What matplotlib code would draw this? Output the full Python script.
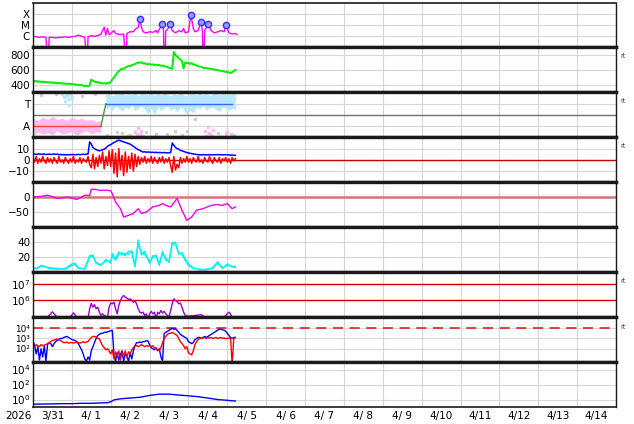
import numpy as np
import matplotlib.pyplot as plt

# time axis: hours since 2026-03-31 00:00, 15 days shown
n_days = 15
day_labels = ["3/31", "4/ 1", "4/ 2", "4/ 3", "4/ 4", "4/ 5", "4/ 6", "4/ 7",
              "4/ 8", "4/ 9", "4/10", "4/11", "4/12", "4/13", "4/14"]

hours = np.arange(126)

# --- X-ray flux (log10 W/m2) ---
xray_t = [0, 2, 4, 6, 8, 9, 9.6, 10, 12, 14, 16, 18, 20, 22, 24, 26, 28, 30, 32, 33, 33.6,
          34, 36, 38, 40, 42, 44, 45, 46, 47, 48, 50, 51, 52, 54, 56, 57, 57.6, 58, 60, 62, 63,
          65, 66, 67, 68, 70, 72, 74, 76, 77, 78, 79.8, 80.6, 81, 81.6, 82, 83, 84.8, 86, 88,
          90, 92, 93, 94, 96, 97.5, 99, 100, 102, 103.7, 104.6, 105, 105.6, 106, 108.2, 110,
          112, 114, 116, 118, 119.3, 121, 123, 125, 126]
xray_log = [-6.0, -6.05, -6.1, -6.05, -6.1, -8, -8, -6.1, -6.1, -6.15, -6.1, -6.1, -6.05, -6.1,
            -6.05, -6.0, -5.9, -6.0, -6.1, -8, -8, -6.05, -5.95, -6.0, -5.95, -5.8, -5.2, -5.9,
            -5.3, -5.85, -5.75, -5.5, -5.75, -5.8, -5.85, -5.8, -8, -8, -5.75, -5.6, -5.6, -5.4,
            -5.2, -4.45, -5.2, -5.6, -5.7, -5.6, -5.65, -5.5, -5.7, -5.4, -4.89, -5.4, -8, -8,
            -5.5, -5.4, -4.89, -5.5, -5.7, -5.5, -5.6, -5.3, -5.7, -5.6, -4.09, -5.3, -5.6, -5.5,
            -4.69, -5.5, -8, -8, -5.5, -4.89, -5.5, -5.7, -5.6, -5.5, -5.6, -4.98, -5.7, -5.8,
            -5.75, -5.85]
flare_t = [66, 79.8, 84.8, 97.5, 103.7, 108.2, 119.3]
flare_log = [-4.45, -4.89, -4.89, -4.09, -4.69, -4.89, -4.98]

# --- solar wind speed (km/s) ---
wind = [460, 445, 455, 440, 450, 438, 445, 435, 442, 430, 438, 428,
        435, 425, 432, 420, 428, 418, 425, 415, 420, 412, 418, 410,
        415, 405, 410, 400, 405, 395, 400, 390, 385, 392, 380, 395,
        470, 455, 445, 435, 440, 425, 430, 418, 425, 415, 428, 420,
        440, 470, 500, 530, 560, 585, 600, 620, 610, 635, 640, 655,
        650, 665, 670, 680, 690, 700, 695, 705, 685, 690, 680, 675,
        680, 670, 675, 665, 672, 660, 668, 655, 660, 650, 645, 640,
        630, 625, 615, 840, 800, 780, 760, 740, 720, 620, 700, 690,
        695, 680, 690, 675, 670, 660, 650, 645, 640, 630, 625, 628,
        620, 615, 618, 610, 605, 600, 598, 592, 590, 585, 580, 575,
        572, 565, 560, 570, 585, 600]

# --- IMF sector (A=1, T=3) ---
pink_t = [0, 3, 6, 9, 12, 15, 18, 21, 24, 27, 30, 33, 36, 39, 42]
pink_lo = [0.2, 0.5, 0.3, 0.4, 0.2, 0.6, 0.3, 0.4, 0.5, 0.2, 0.4, 0.6, 0.3, 0.5, 0.4]
pink_hi = [1.7, 1.5, 1.8, 1.6, 1.9, 1.6, 1.7, 1.5, 1.8, 1.6, 1.7, 1.5, 1.6, 1.4, 1.5]
blue_t = [45, 47, 49, 51, 53, 55, 57, 59, 61, 63, 65, 67, 69, 71, 73, 75, 77, 79, 81, 83,
          85, 87, 89, 91, 93, 95, 97, 99, 101, 103, 105, 107, 109, 111, 113, 115, 117, 119,
          121, 123, 125]
blue_lo = [2.5, 2.7, 2.4, 2.8, 2.6, 2.3, 2.7, 2.5, 2.9, 2.4, 2.6, 2.8, 2.5, 2.1, 2.6, 2.0,
           2.7, 2.4, 2.6, 2.8, 2.4, 2.6, 2.3, 2.7, 2.5, 2.0, 2.4, 2.2, 2.7, 2.5, 2.8, 2.4,
           2.6, 2.7, 2.5, 2.3, 2.7, 2.6, 2.4, 2.6, 2.5]
blue_hi = [3.8, 3.95, 3.7, 3.9, 3.85, 3.95, 3.75, 3.9, 3.8, 3.95, 3.7, 3.9, 3.85, 3.8, 3.95,
           3.75, 3.9, 3.8, 3.95, 3.85, 3.7, 3.9, 3.8, 3.95, 3.8, 3.7, 3.9, 3.85, 3.8, 3.95,
           3.8, 3.9, 3.75, 3.85, 3.95, 3.8, 3.9, 3.85, 3.8, 3.95, 3.9]
extra_blue_t = [18, 19, 20, 20.5, 21, 22, 22.5, 23, 24]
extra_blue_v = [3.9, 3.6, 3.2, 3.7, 3.9, 2.9, 3.4, 3.8, 3.5]
extra_pink_t = [63, 64, 65, 66, 67, 68, 106, 107, 108, 109, 110, 111, 119, 120]
extra_pink_v = [0.5, 0.2, 0.8, 0.3, 0.6, 0.1, 0.6, 0.1, 0.9, 0.4, 0.2, 0.7, 0.3, 0.5]
gray_t = [5, 14, 30, 38, 55, 60, 70, 76, 88, 92, 100, 114, 122, 46, 52, 58, 83, 95, 124]
gray_v = [3.8, 3.9, 3.7, 3.85, 0.4, 0.2, 0.5, 0.3, 0.6, 0.2, 1.6, 0.4, 0.3, 0.2, 0.5, 0.1,
          0.3, 0.6, 0.2]
sector_t = [0, 42, 45, 123]
sector_v = [1, 1, 3, 3]

# --- IMF Bt / Bz (nT) ---
bt = [5, 5.2, 4.8, 5.1, 5.3, 4.9, 5, 5.2, 4.7, 5, 5.1, 4.8,
      5, 5.2, 4.9, 5.1, 4.6, 4.8, 4.5, 4.7, 4.5, 4.6, 4.4, 4.7,
      4.6, 4.8, 4.5, 4.7, 4.9, 4.6, 4.8, 5, 4.8, 5, 5.2, 16,
      14, 11, 10, 9, 8.5, 8, 8.5, 9, 9.5, 10.5, 12, 13,
      13.5, 14.5, 15.5, 16, 17, 17.5, 17, 16.5, 16, 15.5, 15, 14.5,
      14, 13, 12, 11, 10, 9, 8.5, 7.5, 7, 7.2, 6.8, 7,
      6.9, 6.6, 6.8, 6.5, 6.7, 6.4, 6.6, 6.5, 6.3, 6.5, 6.4, 6.2,
      6.3, 6.4, 15, 13, 11, 10, 9.5, 8.5, 8, 7.5, 7, 6.5,
      6.2, 5.8, 5.6, 5.2, 5, 4.8, 4.6, 4.5, 4.4, 4.6, 4.3, 4.5,
      4.4, 4.6, 4.5, 4.4, 4.6, 4.5, 4.7, 4.5, 4.6, 4.4, 4.5, 4.6,
      4.5, 4.4, 4.2, 4.3, 4.1, 4.0]
bz = [2, -2, 3, -3, 1, -2, 3, -1, -3, 2, -2, 1,
      -3, 2, -1, -3, 3, -2, 0, -3, 2, -1, -3, 1,
      -2, 3, -3, 0, -2, 2, -3, 1, -1, -2, 3, -4,
      -7, 5, -8, 2, -6, 4, -3, 7, -8, 3, -5, 8,
      -6, 9, -12, 6, -15, 10, -9, 4, -14, 7, -11, 3,
      -8, 6, -10, 5, -6, 3, -4, 2, -2, 3, -3, 1,
      -2, 3, -3, 2, -1, -3, 2, -2, 3, -3, 1, -2,
      2, -5, -11, 3, -9, -4, -7, 2, -3, 1, -2, 3,
      -2, 1, -3, 2, -1, -2, 3, -2, 0, -3, 2, -1,
      -2, 3, -1, -3, 2, -1, -2, 2, -3, 1, -1, 2,
      -2, 1, -3, 2, -1, 1]

# --- Dst (nT) ---
dst_t = [0, 5, 9, 12, 15, 18, 21, 24, 27, 30, 32, 35, 36, 39, 42, 45, 48, 49, 51, 54, 56,
         58, 60, 62, 65, 67, 70, 74, 78, 80, 82, 85, 89, 92, 95, 98, 101, 105, 109, 113,
         117, 120, 123, 125]
dst = [1, 3, 7, 2, -4, -2, 1, -3, -7, 0, 7, 6, 27, 26, 23, 24, 22, 12, -16, -38, -66,
       -62, -58, -54, -38, -54, -49, -32, -27, -21, -27, -32, -4, -43, -77, -66, -43, -38,
       -29, -24, -27, -21, -38, -32]

# --- cyan index (two traces) ---
cyan_t = [0, 3, 5, 7, 10, 15, 20, 24, 26, 28, 32, 35, 37, 39, 42, 45, 48, 49, 51, 53, 55,
          57, 59, 61, 63, 65, 67, 69, 72, 74, 76, 78, 80, 82, 84, 86, 88, 90, 92, 94, 96, 99,
          103, 107, 111, 114, 117, 120, 123, 125]
cyan_a = [5, 6, 9, 8, 5, 4, 5, 11, 12, 5, 5, 22, 23, 12, 9, 17, 12, 25, 16, 24, 26, 22,
          28, 27, 7, 43, 23, 28, 12, 22, 21, 9, 28, 16, 15, 40, 37, 26, 24, 16, 9, 5, 4, 3,
          6, 14, 5, 11, 7, 8]
cyan_b = [4, 5, 8, 7, 6, 5, 4, 9, 10, 6, 4, 20, 21, 13, 10, 15, 14, 22, 18, 27, 23, 25,
          24, 29, 9, 38, 26, 24, 14, 20, 23, 11, 25, 19, 13, 37, 40, 24, 26, 18, 11, 6, 3, 4,
          5, 12, 6, 9, 8, 6]

# --- electron flux (log10) ---
elec_t = [0, 4, 8, 10, 12, 14, 16, 20, 23, 25, 27, 30, 34, 35, 36, 37, 38, 39, 40, 41, 42,
          43, 44, 46, 47, 48, 49, 50, 51, 52, 53, 54, 55, 56, 57, 58, 59, 60, 61, 62, 63, 64,
          65, 66, 67, 68, 69, 70, 71, 72, 73, 74, 75, 76, 77, 78, 79, 80, 81, 82, 84, 86, 87,
          88, 89, 90, 91, 92, 93, 94, 96, 100, 104, 106, 110, 114, 118, 121, 122, 123, 126]
elec_log = [4.9, 4.95, 4.9, 5.1, 5.32, 5.1, 4.9, 4.9, 5.0, 5.26, 5.0, 4.9, 4.95, 5.5, 5.82,
            5.6, 5.75, 5.5, 5.6, 5.3, 5.1, 5.2, 5.1, 5.0, 5.6, 5.85, 5.8, 5.9, 5.5, 5.2, 5.7,
            6.0, 6.2, 6.3, 6.2, 6.15, 6.05, 6.1, 6.0, 5.9, 5.95, 5.8, 5.5, 5.3, 5.25, 5.3, 5.1,
            5.2, 4.9, 5.2, 5.35, 5.2, 5.3, 4.9, 5.3, 5.2, 5.4, 5.25, 5.35, 5.2, 5.0, 5.8, 6.1,
            6.0, 5.95, 5.8, 5.85, 5.6, 5.3, 5.1, 5.05, 5.1, 5.15, 5.0, 4.9, 4.9, 5.0, 5.3, 5.2,
            4.95, 4.9]

# --- particle flux, two channels (log10) ---
p_blue = [2.8, 2.3, 1.5, 2.2, 0.9, 2.0, 1.2, 2.3, 0.8, 2.4, 2.6, 2.5,
          2.2, 2.5, 2.7, 2.8, 2.9, 3.0, 3.0, 3.1, 3.15, 3.2, 3.1, 3.0,
          2.9, 2.85, 2.8, 2.7, 2.5, 2.2, 1.9, 1.5, 1.0, 0.8, 1.2, 0.9,
          1.8, 2.2, 2.6, 3.0, 3.3, 3.4, 3.5, 3.5, 3.6, 3.6, 3.65, 3.7,
          3.75, 3.8, 1.5, 0.8, 1.6, 0.9, 1.4, 1.8, 0.8, 1.5, 1.2, 0.8,
          1.6, 1.0, 1.8, 2.3, 2.6, 2.6, 2.65, 2.6, 2.7, 2.7, 2.8, 2.75,
          2.4, 2.1, 2.0, 1.9, 2.1, 1.8, 2.0, 1.2, 0.8, 3.5, 3.6, 3.7,
          3.8, 3.9, 4.0, 3.9, 3.95, 3.8, 3.6, 3.4, 3.3, 3.2, 3.1, 3.0,
          2.7, 2.6, 2.5, 2.6, 2.9, 3.0, 3.1, 3.1, 3.0, 3.1, 3.2, 3.1,
          3.2, 3.3, 3.4, 3.5, 3.6, 3.7, 3.8, 3.9, 3.9, 3.85, 3.8, 3.7,
          3.5, 3.3, 3.1, 3.0, 3.1, 3.1]
p_red = [2.3, 2.2, 2.4, 2.3, 2.2, 2.4, 2.3, 2.35, 2.4, 2.5, 2.6, 2.7,
         2.8, 2.85, 2.9, 2.95, 2.9, 2.8, 2.7, 2.6, 2.6, 2.65, 2.55, 2.6,
         2.6, 2.55, 2.6, 2.65, 2.6, 2.55, 2.6, 2.7, 2.6, 2.65, 2.7, 2.9,
         3.1, 3.2, 3.2, 3.15, 3.0, 3.0, 2.6, 2.3, 2.1, 1.9, 2.0, 1.8,
         1.5, 1.9, 1.0, 1.7, 1.3, 1.8, 0.9, 1.6, 1.4, 1.8, 1.2, 1.7,
         1.5, 1.9, 2.1, 2.3, 2.3, 2.2, 2.3, 2.4, 2.3, 2.2, 2.3, 2.25,
         2.3, 2.2, 2.3, 2.1, 2.0, 1.9, 1.8, 2.1, 2.6, 3.0, 3.2, 3.4,
         3.5, 3.5, 3.6, 3.5, 3.4, 3.3, 3.0, 2.7, 2.5, 2.3, 2.0, 2.2,
         1.6, 1.5, 1.4, 1.8, 2.4, 2.7, 2.9, 3.0, 3.0, 3.05, 3.1, 3.0,
         3.1, 3.05, 3.1, 3.0, 3.05, 3.1, 3.0, 3.05, 3.1, 3.0, 3.05, 3.0,
         3.0, 3.05, 3.0, 0.5, 3.0, 3.1]

# --- bottom panel (log10) ---
low_t = [0, 6, 12, 18, 24, 30, 36, 42, 46, 48, 50, 54, 60, 66, 72, 78, 84, 90, 96, 102,
         108, 114, 120, 125]
low_log = [-0.62, -0.6, -0.58, -0.55, -0.55, -0.5, -0.5, -0.45, -0.42, -0.3, -0.05, 0.1,
           0.2, 0.3, 0.55, 0.72, 0.72, 0.6, 0.5, 0.38, 0.2, 0.0, -0.1, -0.2]

grid_c = "#d6d6d6"
fs = 7.5

fig = plt.figure(figsize=(6.34, 4.24), dpi=100)
axes = fig.subplots(9, 1, sharex=True, gridspec_kw=dict(hspace=0))
fig.subplots_adjust(left=0.052, right=0.9716, top=0.994, bottom=0.04)

# panel 1: X-ray
ax = axes[0]
ax.plot(xray_t, 10 ** np.array(xray_log), color="#ff00ff", lw=1)
ax.plot(flare_t, 10 ** np.array(flare_log), "o", ms=4.5, mfc="#9a9aff", mec="#3030ff", mew=1)
ax.set_yscale("log")
ax.set_ylim(1e-7, 1e-3)
ax.set_yticks([1e-6, 1e-5, 1e-4], ["C", "M", "X"])

# panel 2: solar wind
ax = axes[1]
ax.plot(hours, wind, color="#00ee00", lw=1.4)
ax.set_ylim(300, 900)
ax.set_yticks([400, 600, 800])

# panel 3: sector
ax = axes[2]
ax.fill_between(pink_t, pink_lo, pink_hi, color="#ffb8f0", lw=0)
ax.fill_between(blue_t, blue_lo, blue_hi, color="#b8e8ff", lw=0)
ax.plot(extra_blue_t, extra_blue_v, "s", ms=1.6, color="#b8e8ff")
ax.plot(extra_pink_t, extra_pink_v, "s", ms=1.6, color="#ffb8f0")
ax.plot(gray_t, gray_v, "s", ms=1.3, color="#cccccc")
ax.axhline(2, color="#707070", lw=1)
ax.plot(sector_t[:2], sector_v[:2], color="#ff4040", lw=1)
ax.plot(sector_t[1:3], sector_v[1:3], color="#40a040", lw=1)
ax.plot(sector_t[2:], sector_v[2:], color="#4060ff", lw=1)
ax.set_ylim(0, 4)
ax.set_yticks([1, 3], ["A", "T"])

# panel 4: IMF
ax = axes[3]
ax.axhline(0, color="#cc0000", lw=1)
ax.plot(hours, bt, color="#0000ff", lw=1.1)
ax.plot(hours, bz, color="#ff0000", lw=1.1)
ax.set_ylim(-20, 20)
ax.set_yticks([-10, 0, 10], ["\u221210", "0", "10"])

# panel 5: Dst
ax = axes[4]
ax.axhline(0, color="#d07878", lw=1.8)
ax.plot(dst_t, dst, color="#ee00ee", lw=1)
ax.set_ylim(-100, 50)
ax.set_yticks([-50, 0], ["\u221250", "0"])

# panel 6
ax = axes[5]
ax.plot(cyan_t, cyan_a, color="#00eeee", lw=1)
ax.plot(cyan_t, cyan_b, color="#00f4f4", lw=1)
ax.set_ylim(0, 60)
ax.set_yticks([20, 40])

# panel 7: electrons
ax = axes[6]
ax.axhline(1e6, color="#cc0000", lw=1)
ax.axhline(1e7, color="#cc0000", lw=1)
ax.plot(elec_t, 10 ** np.array(elec_log), color="#9900cc", lw=1)
ax.set_yscale("log")
ax.set_ylim(1e5, 5e7)
ax.set_yticks([1e6, 1e7], ["$10^6$", "$10^7$"])

# panel 8
ax = axes[7]
ax.axhline(1e4, color="#dd2222", lw=1.2, dashes=(6, 4))
ax.plot(hours, 10 ** np.array(p_blue), color="#0000ff", lw=1)
ax.plot(hours, 10 ** np.array(p_red), color="#ff0000", lw=1)
ax.set_yscale("log")
ax.set_ylim(5, 1.2e5)
ax.set_yticks([1e2, 1e3, 1e4], ["10\u00b2", "10\u00b3", "10\u2074"])

# panel 9
ax = axes[8]
ax.plot(low_t, 10 ** np.array(low_log), color="#0000ff", lw=1)
ax.set_yscale("log")
ax.set_ylim(0.1, 1e5)
ax.set_yticks([1, 1e2, 1e4], ["$10^0$", "$10^2$", "$10^4$"])

for i, ax in enumerate(axes):
    if ax.get_yscale() == "log":
        ax.minorticks_off()
    ax.set_xlim(0, 24 * n_days)
    ax.set_xticks(np.arange(0, 24 * n_days + 1, 24))
    ax.grid(True, color=grid_c, lw=0.8)
    ax.set_axisbelow(True)
    ax.tick_params(axis="y", which="both", length=0, labelsize=fs, pad=2)
    ax.tick_params(axis="x", which="major", length=0, labelbottom=False)
    for s in ("left", "right"):
        ax.spines[s].set_linewidth(1)
    ax.spines["top"].set_linewidth(1.2 if i == 0 else 2.4)
    ax.spines["bottom"].set_linewidth(1.2 if i == 8 else 2.4)
    for s in ax.spines.values():
        s.set_color("#1a1a1a")

# tighter labels where the decades sit close together
axes[7].tick_params(axis="y", labelsize=6.4)

axes[8].set_xticks(np.arange(12, 24 * n_days, 24), day_labels, minor=True)
axes[8].tick_params(axis="x", which="minor", length=0, labelsize=fs, pad=3)

fig.text(18 / 634, 1 - 416 / 424, "2026", ha="center", va="center", fontsize=fs)
for y in [56, 101, 146, 281, 327]:
    fig.text(620 / 634, 1 - y / 424, "rt", fontsize=4.8, color="#444444", va="center")

plt.savefig("out.png", dpi=100)
